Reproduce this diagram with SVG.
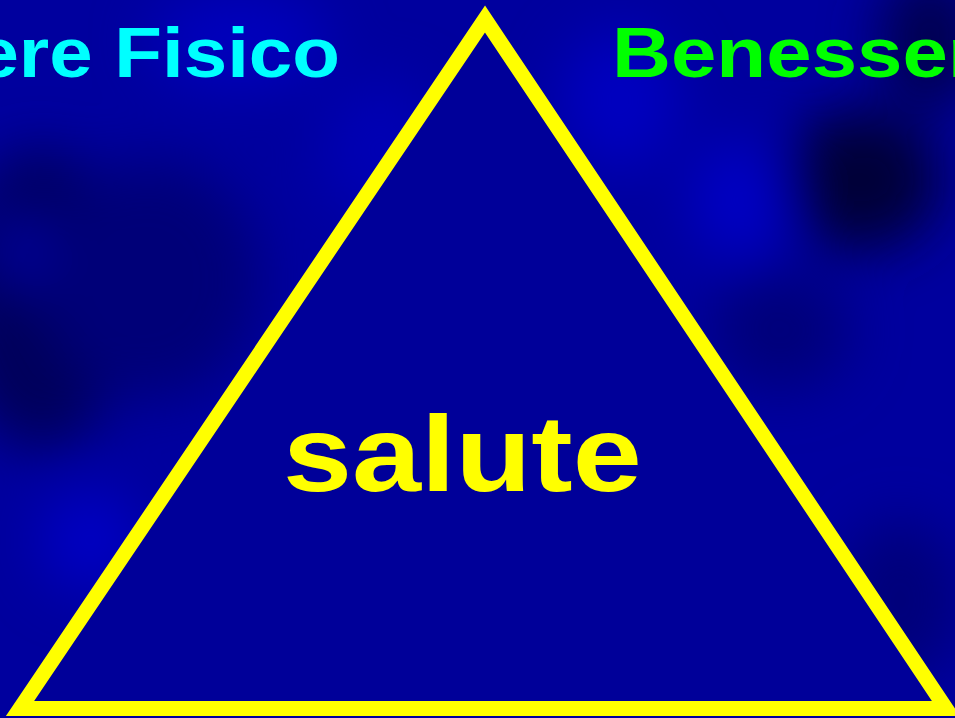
<svg xmlns="http://www.w3.org/2000/svg" width="955" height="718" viewBox="0 0 955 718">
<style>
.lbl{font-family:"Liberation Sans",Arial,sans-serif;font-weight:bold}
</style>
<defs>
<filter id="blur" x="-50%" y="-50%" width="200%" height="200%"><feGaussianBlur stdDeviation="28"/></filter>
</defs>
<g id="background">
<rect x="0" y="0" width="955" height="718" fill="#00009e"/>
<g filter="url(#blur)">
<ellipse cx="40" cy="300" rx="90" ry="150" fill="#00005a"/>
<ellipse cx="150" cy="280" rx="110" ry="120" fill="#000078"/>
<ellipse cx="860" cy="180" rx="80" ry="70" fill="#000038"/>
<ellipse cx="930" cy="40" rx="50" ry="70" fill="#000050"/>
<ellipse cx="780" cy="330" rx="70" ry="60" fill="#00007a"/>
<ellipse cx="900" cy="600" rx="60" ry="80" fill="#00007a"/>
<ellipse cx="740" cy="200" rx="50" ry="60" fill="#0000c4"/>
<ellipse cx="240" cy="40" rx="90" ry="50" fill="#0000bc"/>
<ellipse cx="620" cy="100" rx="60" ry="70" fill="#0000c0"/>
<ellipse cx="90" cy="540" rx="50" ry="50" fill="#0000c4"/>
<ellipse cx="20" cy="250" rx="20" ry="40" fill="#0000aa"/>
<ellipse cx="380" cy="150" rx="60" ry="70" fill="#0000b4"/>
</g>
</g>
<g id="texts-top">
<text class="lbl" transform="translate(340 77) scale(1.1 1)" text-anchor="end" font-size="71" fill="#00ffff">Benessere Fisico</text>
<text class="lbl" transform="translate(612 77) scale(1.15 1)" font-size="71" fill="#00ff00">Benessere</text>
</g>
<g id="triangle">
<polygon points="485,19 20,708.5 946,708.5" fill="#000099" stroke="#ffff00" stroke-width="15" stroke-linejoin="miter" stroke-miterlimit="10"/>
<text class="lbl" transform="translate(283 491) scale(1.16 1)" font-size="107" fill="#ffff00">salute</text>
</g>
</svg>
